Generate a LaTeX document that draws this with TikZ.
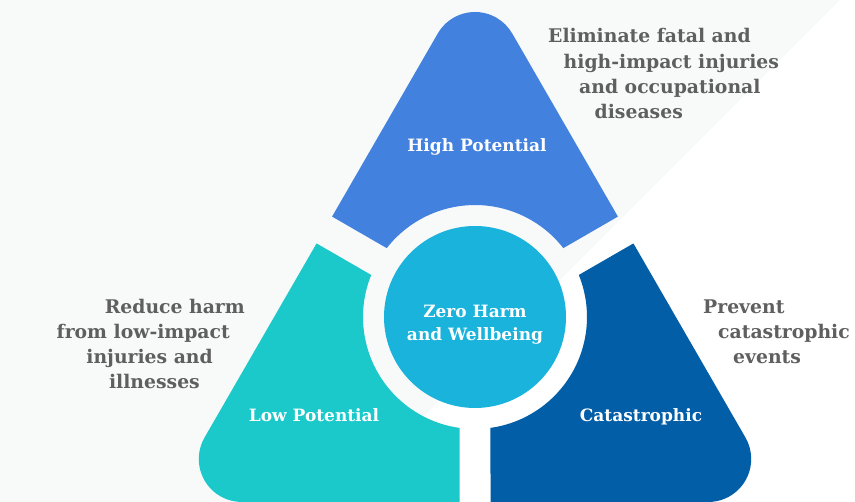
\documentclass[tikz,border=0pt]{standalone}
\usepackage{fontspec}
\setmainfont{DejaVu Serif}

\definecolor{highblue}{HTML}{4381DE}
\definecolor{lowteal}{HTML}{1BC8CA}
\definecolor{catblue}{HTML}{035EA8}
\definecolor{hubcyan}{HTML}{19B3DC}
\definecolor{notegray}{HTML}{5F5F5F}
\definecolor{paper}{HTML}{F8FAFA}

\begin{document}
\begin{tikzpicture}[x=1pt, y=1pt]
    \tikzstyle{wedgetext}=[text=white, inner sep=0pt, font=\bfseries\fontsize{17}{23}\selectfont]
    \tikzstyle{goaltext}=[text=notegray, inner sep=0pt, anchor=base west, font=\bfseries\fontsize{18.8}{22}\selectfont]

    % page, with the pale half behind the triangle
    \fill[white] (0,0) rectangle (855,502);
    \fill[paper] (0,0) -- (338,0) -- (840,502) -- (0,502) -- cycle;
    \useasboundingbox (0,0) rectangle (855,502);

    \coordinate (C) at (475,185);

    % the three parts of the triangle
    \fill[highblue] (332.09,285.41) -- (437.76,468.5) arc[start angle=150, end angle=30, radius=43pt]
        -- (617.91,285.41) -- (563.33,253.86) arc[start angle=37.96, end angle=142.04, radius=112pt] -- cycle;
    \fill[lowteal] (316.59,258.57) -- (204.56,64.5) arc[start angle=150, end angle=270, radius=43pt]
        -- (459.5,0) -- (459.5,74.08) arc[start angle=262.045, end angle=157.955, radius=112pt] -- cycle;
    \fill[catblue] (490.5,0) -- (708.2,0) arc[start angle=270, end angle=390, radius=43pt]
        -- (633.41,258.57) -- (578.8,227.04) arc[start angle=22.045, end angle=-82.045, radius=112pt] -- cycle;

    \node[circle, fill=hubcyan, minimum size=182pt] (hub) at (C) {};
    \node[wedgetext, align=center] (hubtext) at ([yshift=-8pt]hub.center) {Zero Harm\\and Wellbeing};

    \node[wedgetext, anchor=base] (high) at (477,350) {High Potential};
    \node[wedgetext, anchor=base] (low) at (314,80) {Low Potential};
    \node[wedgetext, anchor=base] (cat) at (641,80) {Catastrophic};

    % goals, stepped along the sides
    \foreach \txt [count=\i from 0] in {Eliminate fatal and, high-impact injuries, and occupational, diseases}
        \node[goaltext] (goal-high-\i) at (548+15.5*\i, 459-25.3*\i) {\txt};
    \foreach \txt [count=\i from 0] in {Prevent, catastrophic, events}
        \node[goaltext] (goal-cat-\i) at (703+15*\i, 188-25*\i) {\txt};
    \foreach \txt/\xr [count=\i from 0] in {Reduce harm/245, from low-impact/230, injuries and/213, illnesses/200}
        \node[goaltext, anchor=base east] (goal-low-\i) at (\xr, 188-24.7*\i) {\txt};
\end{tikzpicture}
\end{document}
